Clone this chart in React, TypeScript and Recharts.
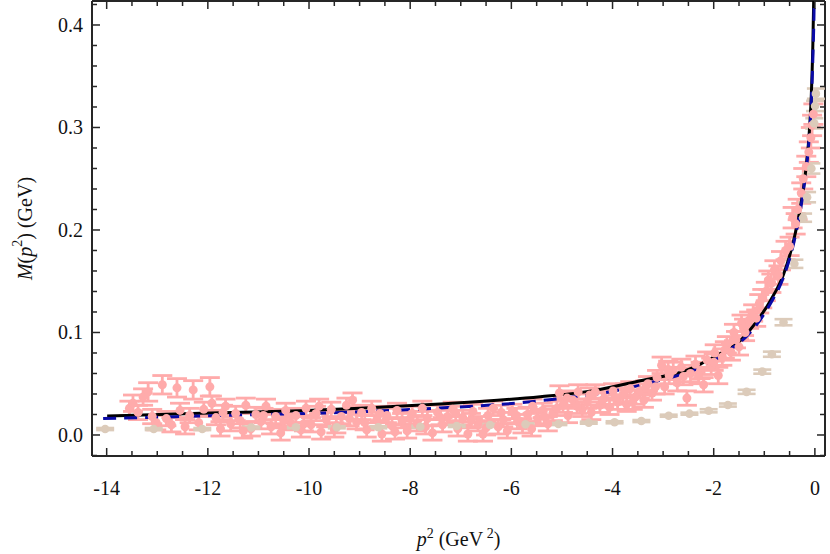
import {
  ComposedChart,
  Scatter,
  Line,
  XAxis,
  YAxis,
  ErrorBar,
  ReferenceLine,
} from 'recharts';

// axis ranges and ticks
const X_DOMAIN: [number, number] = [-14.29, 0.2];
const Y_DOMAIN: [number, number] = [-0.0205, 0.4234];

const xTicks = [
  -14, -13.5, -13, -12.5, -12, -11.5, -11, -10.5, -10, -9.5, -9, -8.5, -8, -7.5,
  -7, -6.5, -6, -5.5, -5, -4.5, -4, -3.5, -3, -2.5, -2, -1.5, -1, -0.5, 0,
];
const yTicks = [
  -0.02, 0, 0.02, 0.04, 0.06, 0.08, 0.1, 0.12, 0.14, 0.16, 0.18, 0.2, 0.22,
  0.24, 0.26, 0.28, 0.3, 0.32, 0.34, 0.36, 0.38, 0.4, 0.42,
];

// lattice data (pink): [p2, M, error]
const latticePoints: [number, number, number][] = [
  [-13.55, 0.026, 0.007], [-13.48, 0.031, 0.008], [-13.38, 0.022, 0.007],
  [-13.28, 0.037, 0.008], [-13.18, 0.042, 0.009], [-13.1, 0.018, 0.007],
  [-13.02, 0.012, 0.007], [-12.9, 0.049, 0.009], [-12.82, 0.016, 0.007],
  [-12.72, 0.01, 0.007], [-12.61, 0.046, 0.009], [-12.55, 0.024, 0.007],
  [-12.45, 0.008, 0.007], [-12.36, 0.019, 0.007], [-12.29, 0.044, 0.009],
  [-12.18, 0.012, 0.007], [-12.08, 0.025, 0.007], [-11.96, 0.047, 0.009],
  [-11.92, 0.031, 0.007], [-11.84, 0.017, 0.007], [-11.75, 0.006, 0.007],
  [-11.65, 0.028, 0.007], [-11.55, 0.011, 0.007], [-11.45, 0.021, 0.007],
  [-11.36, 0.014, 0.007], [-11.25, 0.029, 0.007], [-11.15, 0.006, 0.007],
  [-11.05, 0.02, 0.007], [-10.95, 0.013, 0.007], [-10.85, 0.028, 0.007],
  [-10.75, 0.008, 0.007], [-10.66, 0.018, 0.007], [-10.56, 0.002, 0.007],
  [-10.46, 0.024, 0.007], [-10.36, 0.012, 0.007], [-10.26, 0.019, 0.007],
  [-10.16, 0.005, 0.007], [-10.06, 0.026, 0.007], [-9.96, 0.01, 0.007],
  [-9.86, 0.021, 0.007], [-9.76, 0.003, 0.007], [-9.66, 0.015, 0.007],
  [-9.56, 0.025, 0.007], [-9.46, 0.009, 0.007], [-9.36, 0.018, 0.007],
  [-9.26, 0.029, 0.007], [-9.14, 0.034, 0.007], [-9.06, 0.013, 0.007],
  [-8.96, 0.022, 0.007], [-8.86, 0.005, 0.007], [-8.76, 0.026, 0.007],
  [-8.66, 0.015, 0.007], [-8.56, 0.001, 0.007], [-8.46, 0.019, 0.007],
  [-8.36, 0.009, 0.007], [-8.26, 0.024, 0.007], [-8.16, 0.014, 0.007],
  [-8.06, 0.004, 0.007], [-7.96, 0.021, 0.007], [-7.86, 0.011, 0.007],
  [-7.76, 0.026, 0.007], [-7.66, 0.016, 0.007], [-7.56, 0.002, 0.007],
  [-7.46, 0.022, 0.007], [-7.36, 0.01, 0.007], [-7.26, 0.018, 0.007],
  [-7.16, 0.025, 0.007], [-7.06, 0.006, 0.007], [-6.96, 0.017, 0.007],
  [-6.86, 0.001, 0.007], [-6.76, 0.023, 0.007], [-6.66, 0.011, 0.007],
  [-6.56, 0.001, 0.007], [-6.46, 0.019, 0.007], [-6.36, 0.026, 0.007],
  [-6.26, 0.008, 0.007], [-6.16, 0.015, 0.007], [-6.08, 0.004, 0.007],
  [-5.98, 0.023, 0.007], [-5.88, 0.013, 0.007], [-5.78, 0.009, 0.007],
  [-5.68, 0.02, 0.007], [-5.58, 0.028, 0.007], [-5.48, 0.016, 0.007],
  [-5.38, 0.024, 0.007], [-5.28, 0.011, 0.007], [-5.18, 0.021, 0.007],
  [-5.05, 0.041, 0.007], [-4.98, 0.029, 0.007], [-4.88, 0.019, 0.007],
  [-4.78, 0.034, 0.007], [-4.68, 0.042, 0.007], [-4.6, 0.025, 0.007],
  [-4.5, 0.033, 0.007], [-4.42, 0.022, 0.007], [-4.34, 0.042, 0.007],
  [-4.25, 0.029, 0.007], [-4.16, 0.036, 0.007], [-4.06, 0.027, 0.007],
  [-3.99, 0.043, 0.007], [-3.9, 0.032, 0.007], [-3.8, 0.039, 0.007],
  [-3.72, 0.03, 0.007], [-3.65, 0.045, 0.007], [-3.55, 0.037, 0.007],
  [-3.46, 0.043, 0.007], [-3.38, 0.034, 0.007], [-3.3, 0.05, 0.007],
  [-3.22, 0.041, 0.007], [-3.12, 0.056, 0.007], [-3.03, 0.068, 0.008],
  [-2.97, 0.047, 0.007], [-2.88, 0.058, 0.008], [-2.8, 0.063, 0.008],
  [-2.72, 0.051, 0.008], [-2.64, 0.066, 0.008], [-2.53, 0.036, 0.007],
  [-2.46, 0.06, 0.008], [-2.36, 0.069, 0.008], [-2.26, 0.063, 0.008],
  [-2.2, 0.049, 0.007], [-2.13, 0.073, 0.008], [-2.05, 0.067, 0.008],
  [-1.98, 0.08, 0.008], [-1.91, 0.058, 0.008], [-1.83, 0.076, 0.008],
  [-1.74, 0.088, 0.008], [-1.66, 0.081, 0.008], [-1.56, 0.093, 0.008],
  [-1.5, 0.086, 0.008], [-1.45, 0.109, 0.008], [-1.38, 0.1, 0.008],
  [-1.3, 0.112, 0.008], [-1.22, 0.119, 0.008], [-1.16, 0.114, 0.008],
  [-1.1, 0.128, 0.009], [-1.04, 0.133, 0.009], [-0.97, 0.14, 0.009],
  [-0.92, 0.151, 0.009], [-0.86, 0.148, 0.009], [-0.8, 0.161, 0.009],
  [-0.72, 0.156, 0.009], [-0.67, 0.17, 0.009], [-0.58, 0.18, 0.009],
  [-0.5, 0.184, 0.009], [-0.44, 0.212, 0.01], [-0.38, 0.206, 0.01],
  [-0.34, 0.22, 0.01], [-0.27, 0.236, 0.01], [-0.23, 0.25, 0.01],
  [-0.17, 0.262, 0.01], [-0.12, 0.276, 0.01], [-0.08, 0.29, 0.01],
  [-0.055, 0.302, 0.01], [-0.03, 0.313, 0.01],
  [-11.7, 0.022, 0.007], [-11.3, 0.004, 0.007], [-10.9, 0.019, 0.007],
  [-10.5, 0.014, 0.007], [-10.1, 0.011, 0.007], [-9.8, 0.028, 0.007],
  [-9.5, 0.005, 0.007], [-9.2, 0.016, 0.007], [-8.9, 0.012, 0.007],
  [-8.6, 0.021, 0.007], [-8.3, 0.003, 0.007], [-8.0, 0.016, 0.007],
  [-7.7, 0.008, 0.007], [-7.4, 0.017, 0.007], [-7.1, 0.021, 0.007],
  [-6.8, 0.014, 0.007], [-6.5, 0.007, 0.007], [-6.2, 0.022, 0.007],
  [-5.9, 0.019, 0.007], [-5.6, 0.006, 0.007], [-5.35, 0.018, 0.007],
  [-5.1, 0.026, 0.007], [-4.9, 0.036, 0.007], [-4.7, 0.028, 0.007],
  [-4.45, 0.039, 0.007], [-4.2, 0.034, 0.007], [-3.95, 0.037, 0.007],
  [-3.75, 0.043, 0.007], [-3.6, 0.032, 0.007], [-3.35, 0.046, 0.007],
  [-3.15, 0.047, 0.007], [-2.9, 0.064, 0.008], [-2.6, 0.057, 0.008],
  [-2.3, 0.058, 0.008], [-2.0, 0.071, 0.008], [-1.78, 0.083, 0.008],
  [-1.6, 0.1, 0.008], [-1.4, 0.105, 0.008],
];

// second data set (tan): [p2, M, error]
const tanPoints: [number, number, number][] = [
  [-14.03, 0.0058, 0.001], [-13.07, 0.0058, 0.001], [-12.11, 0.0058, 0.001],
  [-11.14, 0.0073, 0.001], [-10.26, 0.0075, 0.001], [-9.45, 0.0075, 0.001],
  [-8.63, 0.0075, 0.001], [-7.8, 0.0081, 0.001], [-7.08, 0.0088, 0.001],
  [-6.42, 0.0097, 0.001], [-5.72, 0.0104, 0.001], [-5.07, 0.0107, 0.001],
  [-4.47, 0.012, 0.001], [-3.96, 0.0124, 0.001], [-3.43, 0.0136, 0.001],
  [-2.89, 0.0188, 0.001], [-2.48, 0.0208, 0.001], [-2.1, 0.0236, 0.0015],
  [-1.72, 0.0292, 0.0015], [-1.35, 0.0421, 0.002], [-1.04, 0.0618, 0.002],
  [-0.85, 0.0788, 0.0025], [-0.62, 0.11, 0.003], [-0.405, 0.167, 0.004],
  [-0.233, 0.212, 0.004], [-0.154, 0.232, 0.005], [-0.069, 0.26, 0.005],
  [-0.012, 0.304, 0.005], [0.004, 0.321, 0.005], [0.02, 0.333, 0.005],
];

// solid black curve: [p2, M]
const solidCurve: [number, number][] = [
  [-13.99, 0.0185], [-12.15, 0.0212], [-10.17, 0.0237], [-8.99, 0.026],
  [-7.41, 0.0302], [-5.43, 0.0373], [-4.44, 0.0428], [-3.45, 0.053],
  [-2.53, 0.0633], [-1.87, 0.0795], [-1.54, 0.0892], [-1.21, 0.107],
  [-0.88, 0.131], [-0.617, 0.157], [-0.419, 0.19], [-0.287, 0.222],
  [-0.188, 0.255], [-0.123, 0.287], [-0.075, 0.326], [-0.043, 0.375],
  [-0.024, 0.423], [-0.015, 0.46],
];

// dashed blue curve: [p2, M]
const dashedCurve: [number, number][] = [
  [-14.07, 0.016], [-12.15, 0.0185], [-8.99, 0.0227], [-7.41, 0.0263],
  [-5.43, 0.0334], [-3.45, 0.0487], [-1.87, 0.0769], [-1.21, 0.104],
  [-0.88, 0.128], [-0.62, 0.154], [-0.42, 0.187], [-0.287, 0.219],
  [-0.19, 0.252], [-0.12, 0.285], [-0.07, 0.326], [-0.036, 0.375],
  [-0.014, 0.423], [-0.006, 0.46],
];

const PINK = '#ffabab';
const TAN = '#dccbba';
const AXIS = '#262626';
const FONT = '"Liberation Serif", "DejaVu Serif", serif';

const PLOT_TOP = 1;
const PLOT_RIGHT = 825;

const toPoints = (rows: [number, number, number][]) =>
  rows.map(([x, y, err]) => ({ x, y, err }));
const toLine = (rows: [number, number][]) => rows.map(([x, y]) => ({ x, y }));

function XTick({ x, y, payload }: any) {
  const v = payload.value;
  const major = Math.abs(v / 2 - Math.round(v / 2)) < 1e-6;
  const len = major ? 8 : 5;
  return (
    <g>
      <line x1={x} x2={x} y1={y} y2={y - len} stroke={AXIS} strokeWidth={1.5} />
      <line x1={x} x2={x} y1={PLOT_TOP} y2={PLOT_TOP + len} stroke={AXIS} strokeWidth={1.5} />
      {major && (
        <text x={x} y={y + 39} textAnchor="middle" fontFamily={FONT} fontSize={20} fill="#111">
          {String(v)}
        </text>
      )}
    </g>
  );
}

function YTick({ x, y, payload }: any) {
  const v = payload.value;
  const major = Math.abs(v * 10 - Math.round(v * 10)) < 1e-6;
  const len = major ? 8 : 5;
  return (
    <g>
      <line x1={x} x2={x + len} y1={y} y2={y} stroke={AXIS} strokeWidth={1.5} />
      <line x1={PLOT_RIGHT} x2={PLOT_RIGHT - len} y1={y} y2={y} stroke={AXIS} strokeWidth={1.5} />
      {major && (
        <text x={x - 9} y={y + 7} textAnchor="end" fontFamily={FONT} fontSize={20} fill="#111">
          {v.toFixed(1)}
        </text>
      )}
    </g>
  );
}

function YTitle({ viewBox }: any) {
  const cx = 25;
  const cy = viewBox ? viewBox.y + viewBox.height / 2 : 229;
  return (
    <text
      x={cx}
      y={cy}
      transform={`rotate(-90, ${cx}, ${cy})`}
      textAnchor="middle"
      dominantBaseline="central"
      fontFamily={FONT}
      fontSize={20}
      fill="#111"
    >
      <tspan fontStyle="italic">M</tspan>
      <tspan>(</tspan>
      <tspan fontStyle="italic">p</tspan>
      <tspan dy={-8} fontSize={14}>2</tspan>
      <tspan dy={8}>) (GeV)</tspan>
    </text>
  );
}

function XTitle({ viewBox }: any) {
  const cx = viewBox ? viewBox.x + viewBox.width / 2 : 458;
  const cy = 546;
  return (
    <text x={cx} y={cy} textAnchor="middle" fontFamily={FONT} fontSize={20} fill="#111">
      <tspan fontStyle="italic">p</tspan>
      <tspan dy={-8} fontSize={14}>2</tspan>
      <tspan dy={8}> (GeV</tspan>
      <tspan dy={-8} fontSize={14}> 2</tspan>
      <tspan dy={8}>)</tspan>
    </text>
  );
}

const dotShape = (fill: string, r: number) => (props: any) =>
  <circle cx={props.cx} cy={props.cy} r={r} fill={fill} />;

export default function App() {
  return (
    <div style={{ position: 'absolute', left: 0, top: 0, width: 830, height: 554, background: '#fff' }}>
      <ComposedChart
        width={830}
        height={554}
        margin={{ top: PLOT_TOP, right: 830 - PLOT_RIGHT, bottom: 0, left: 0 }}
      >
        <XAxis
          type="number"
          dataKey="x"
          domain={X_DOMAIN}
          allowDataOverflow
          ticks={xTicks}
          interval={0}
          height={98}
          tickSize={0}
          tickMargin={0}
          tickLine={false}
          tick={(p: any) => <XTick {...p} />}
          axisLine={{ stroke: AXIS, strokeWidth: 2 }}
          label={{ content: (p: any) => <XTitle {...p} /> }}
        />
        <YAxis
          type="number"
          dataKey="y"
          domain={Y_DOMAIN}
          allowDataOverflow
          ticks={yTicks}
          interval={0}
          width={92}
          tickSize={0}
          tickMargin={0}
          tickLine={false}
          tick={(p: any) => <YTick {...p} />}
          axisLine={{ stroke: AXIS, strokeWidth: 2 }}
          label={{ content: (p: any) => <YTitle {...p} /> }}
        />
        <ReferenceLine y={Y_DOMAIN[1]} stroke={AXIS} strokeWidth={2} />
        <ReferenceLine x={X_DOMAIN[1]} stroke={AXIS} strokeWidth={2} />
        <Scatter
          data={toPoints(latticePoints)}
          fill={PINK}
          shape={dotShape(PINK, 4.5)}
          isAnimationActive={false}
        >
          <ErrorBar dataKey="err" direction="y" width={10} stroke={PINK} strokeWidth={2.8} isAnimationActive={false} />
        </Scatter>
        <Scatter
          data={toPoints(tanPoints)}
          fill={TAN}
          shape={dotShape(TAN, 4.3)}
          isAnimationActive={false}
        >
          <ErrorBar dataKey="err" direction="y" width={9} stroke={TAN} strokeWidth={2.6} isAnimationActive={false} />
        </Scatter>
        <Line
          data={toLine(solidCurve)}
          dataKey="y"
          type="monotone"
          stroke="#000"
          strokeWidth={3}
          dot={false}
          activeDot={false}
          isAnimationActive={false}
        />
        <Line
          data={toLine(dashedCurve)}
          dataKey="y"
          type="monotone"
          stroke="#0a0aa6"
          strokeWidth={3}
          strokeDasharray="13 8"
          dot={false}
          activeDot={false}
          isAnimationActive={false}
        />
      </ComposedChart>
    </div>
  );
}
